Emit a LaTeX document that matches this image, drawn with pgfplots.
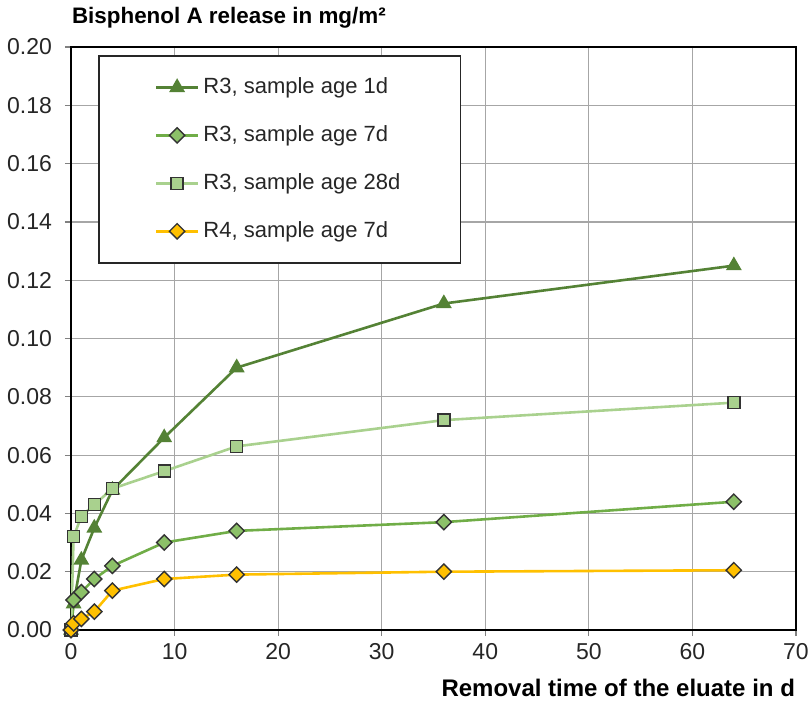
\documentclass[border=0pt]{standalone}
\usepackage{fontspec}
\setmainfont{Liberation Sans}
\usepackage{pgfplots}
\pgfplotsset{compat=1.18}
\definecolor{cA}{HTML}{548235}
\definecolor{cB}{HTML}{70AD47}
\definecolor{cBf}{HTML}{8CC168}
\definecolor{cC}{HTML}{A9D18E}
\definecolor{cD}{HTML}{FFC000}
\begin{document}
\begin{tikzpicture}
\begin{axis}[
  scale only axis, width=362.5pt, height=291.5pt,
  at={(0,0)}, anchor=south west,
  xmin=0, xmax=70, ymin=0, ymax=0.2,
  xtick={0,10,...,70},
  ytick={0,0.02,0.04,0.06,0.08,0.1,0.12,0.14,0.16,0.18,0.2},
  yticklabel style={xshift=-3pt, /pgf/number format/.cd, fixed, fixed zerofill, precision=2},
  /pgf/number format/assume math mode=true,
  tick label style={font=\fontsize{11.5}{13}\selectfont, color=black!85},
  tick align=outside, xtick pos=left, ytick pos=left,
  major tick length=3pt,
  tick style={gray, line width=0.6pt},
  grid=major,
  major grid style={gray!70, line width=0.6pt},
  axis line style={black, line width=1.3pt},
  every axis y label/.style={at={(rel axis cs:0,1)}, anchor=south west, yshift=6pt, xshift=-3pt},
  every axis x label/.style={at={(rel axis cs:1,0)}, anchor=north east, yshift=-21pt, xshift=3pt},
  ylabel={\fontsize{11.2}{13}\selectfont\bfseries Bisphenol A release in mg/m²},
  xlabel={\fontsize{12}{14}\selectfont\bfseries Removal time of the eluate in d},
  legend style={at={(rel axis cs:0.0372,0.986)}, anchor=north west,
    draw=black!85, line width=0.8pt, fill=white,
    font=\fontsize{11}{12}\selectfont, text=black!85,
    row sep=10.5pt, inner xsep=28pt, inner ysep=9pt, cells={anchor=west}},
  legend image code/.code={\draw[mark repeat=2, mark phase=2] plot coordinates {(0cm,0cm) (0.37cm,0cm) (0.74cm,0cm)};},
  legend cell align=left,
]
\addplot[cA, line width=1.3pt, mark=triangle*, mark size=3.3pt, mark options={fill=cA, draw=cA}]
  coordinates {(0,0) (0.25,0.009) (1,0.024) (2.25,0.035) (4,0.048) (9,0.066) (16,0.090) (36,0.112) (64,0.125)};
\addlegendentry{R3, sample age 1d}
\addplot[cB, line width=1.3pt, mark=square*, mark size=2.7pt, mark options={rotate=45, fill=cBf, draw=black!80, line width=0.7pt}]
  coordinates {(0,0) (0.25,0.0103) (1,0.013) (2.25,0.0175) (4,0.022) (9,0.030) (16,0.034) (36,0.037) (64,0.044)};
\addlegendentry{R3, sample age 7d}
\addplot[cC, line width=1.3pt, mark=square*, mark size=3pt, mark options={fill=cC, draw=black!80, line width=0.7pt}]
  coordinates {(0,0) (0.25,0.032) (1,0.039) (2.25,0.043) (4,0.0485) (9,0.0545) (16,0.063) (36,0.072) (64,0.078)};
\addlegendentry{R3, sample age 28d}
\addplot[cD, line width=1.3pt, mark=square*, mark size=2.7pt, mark options={rotate=45, fill=cD, draw=black!80, line width=0.7pt}]
  coordinates {(0,0) (0.25,0.0023) (1,0.0038) (2.25,0.0063) (4,0.0135) (9,0.0175) (16,0.019) (36,0.020) (64,0.0205)};
\addlegendentry{R4, sample age 7d}
\end{axis}
\pgfresetboundingbox
\path[use as bounding box] (-35.5pt,-36.5pt) rectangle (369.5pt,315pt);
\end{tikzpicture}
\end{document}
